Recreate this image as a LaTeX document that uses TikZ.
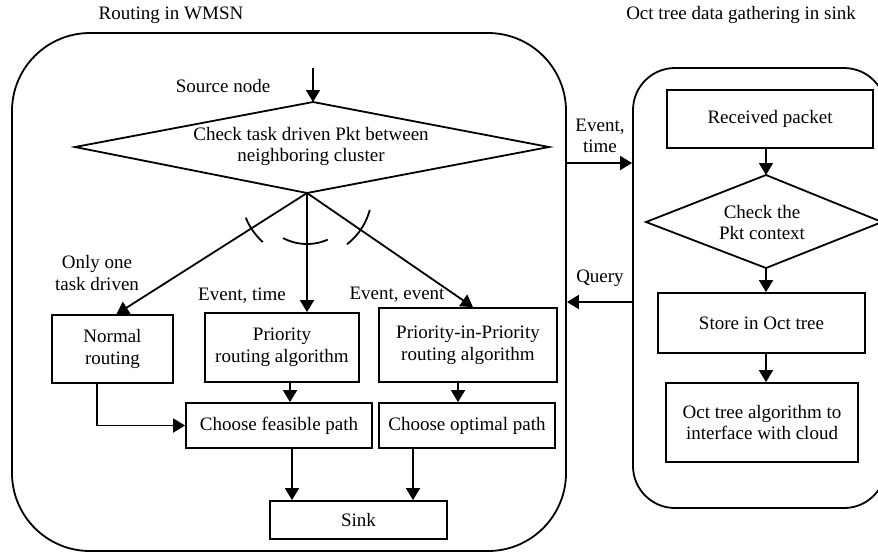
\documentclass[tikz,border=0pt]{standalone}
\usepackage{fontspec}
\setmainfont{Liberation Serif}
\usetikzlibrary{arrows.meta,calc}
\begin{document}
\begin{tikzpicture}[x=0.5pt,y=-0.5pt,
  every node/.style={font=\fontsize{9.5}{10.8}\selectfont, inner sep=0pt, align=center},
  line/.style={line width=0.9pt},
  arr/.style={line width=0.9pt, -{Triangle[length=6pt,width=7pt]}},
  box/.style={draw, line width=0.9pt},
  panel/.style={draw, line width=0.9pt}
]
\useasboundingbox (0,0) rectangle (878,554);
\clip (0,0) rectangle (878,554);

% panels
\node[panel, rounded corners=39pt, minimum width=277pt, minimum height=259pt] (leftpanel) at (289,292) {};
\node[panel, rounded corners=21pt, minimum width=126.5pt, minimum height=220pt] (rightpanel) at (759.5,288) {};

% titles
\node (t1) at (171,15) {Routing in WMSN};
\node (t2) at (741,15) {Oct tree data gathering in sink};

% main diamond
\coordinate (dL) at (75,147);
\coordinate (dT) at (313,102);
\coordinate (dR) at (549,147);
\coordinate (dB) at (307,193);
\draw[line] (dL) -- (dT) -- (dR) -- (dB) -- cycle;
\node (check) at (311,146.5) {Check task driven Pkt between\\neighboring cluster};

\coordinate (src) at (313,68);
\draw[arr] (src) -- (dT);
\node (srclbl) at (223,86) {Source node};

% boxes left
\node[box, minimum width=60.5pt, minimum height=34pt] (normal) at (112.5,349) {Normal\\routing};
\node[box, minimum width=77pt, minimum height=34.5pt] (prio) at (282,347.5) {Priority\\routing algorithm};
\node[box, minimum width=89pt, minimum height=37pt] (pip) at (468,345) {Priority-in-Priority\\routing algorithm};
\node[box, minimum width=93pt, minimum height=22.5pt] (feas) at (279,425.5) {Choose feasible path};
\node[box, minimum width=88pt, minimum height=22.5pt] (opt) at (467,425.5) {Choose optimal path};
\node[box, minimum width=88.5pt, minimum height=19pt] (sink) at (358.5,520) {Sink};

% branch labels
\node (only) at (97,273) {Only one\\task driven};
\node (evtime) at (242,296) {Event, time};
\node (evevent) at (397,295) {Event, event};

% branches
\draw[arr] (dB) -- ([xshift=2pt]normal.north);
\draw[arr] (dB) -- (dB |- prio.north);
\draw[arr] (dB) -- ([xshift=2.5pt]pip.north);

% arcs
\draw[line] plot[domain=132:158, samples=20] ({307+66*cos(\x)}, {193+66*sin(\x)});
\draw[line] plot[domain=66:118, samples=20] ({307+51*cos(\x)}, {193+51*sin(\x)});
\draw[line] plot[domain=15:52, samples=20] ({307+65*cos(\x)}, {193+65*sin(\x)});

% lower connectors
\draw[arr] ([xshift=4pt]prio.south) -- ([xshift=4pt]prio.south |- feas.north);
\draw[arr] ([xshift=-7.75pt]normal.south) |- (feas.west);
\draw[arr] ([xshift=-5pt]pip.south) -- ([xshift=-5pt]pip.south |- opt.north);
\draw[arr] ([xshift=6.5pt]feas.south) -- ([xshift=6.5pt]feas.south |- sink.north);
\draw[arr] ([xshift=-27pt]opt.south) -- ([xshift=-27pt]opt.south |- sink.north);

% between panels
\draw[arr] (leftpanel.east |- 0,163) -- (rightpanel.west |- 0,163);
\draw[arr] (rightpanel.west |- 0,302) -- (leftpanel.east |- 0,302);
\node (evt) at (600,136) {Event,\\time};
\node (qry) at (600,278) {Query};

% right side
\node[box, minimum width=103pt, minimum height=29pt] (recv) at (770,119) {Received packet};
\coordinate (eL) at (646,222);
\coordinate (eT) at (766,175);
\coordinate (eR) at (882,222);
\coordinate (eB) at (766,268);
\draw[line] (eL) -- (eT) -- (eR) -- (eB) -- cycle;
\node (ctx) at (762,222.5) {Check the\\Pkt context};
\node[box, minimum width=103.5pt, minimum height=30pt] (store) at (761.5,323) {Store in Oct tree};
\node[box, minimum width=96pt, minimum height=39.5pt] (octalg) at (762,422.5) {Oct tree algorithm to\\interface with cloud};

\draw[arr] (recv.south -| eT) -- (eT);
\draw[arr] (eB) -- (eB |- store.north);
\draw[arr] (store.south -| eB) -- (octalg.north -| eB);
\end{tikzpicture}
\end{document}
